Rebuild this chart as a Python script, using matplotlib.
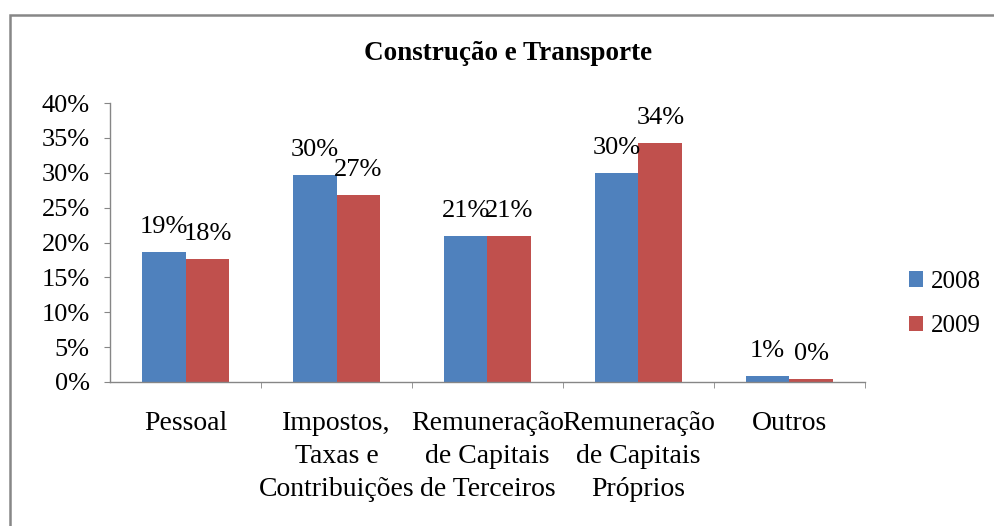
import numpy as np
import matplotlib
matplotlib.use("Agg")
import matplotlib.pyplot as plt
from matplotlib.patches import Rectangle

categories = ["Pessoal", "Impostos,\nTaxas e\nContribuições",
              "Remuneração\nde Capitais\nde Terceiros",
              "Remuneração\nde Capitais\nPróprios", "Outros"]
years = ["2008", "2009"]
vals_2008 = [18.6, 29.7, 20.9, 29.9, 0.86]
vals_2009 = [17.7, 26.8, 20.9, 34.2, 0.45]
yticks = [0, 5, 10, 15, 20, 25, 30, 35, 40]
colors = ["#4F81BD", "#C0504D"]

plt.rcParams["font.family"] = ["Liberation Serif", "DejaVu Serif"]
AXIS_GRAY = "#868686"

fig = plt.figure(figsize=(9.95, 5.26), dpi=100)
ax = fig.add_axes([110 / 995, 1 - 382 / 526, 755 / 995, 279 / 526])

x = np.arange(len(categories))
w = 0.29
for vals, off, col, lab in [(vals_2008, -w / 2, colors[0], years[0]),
                            (vals_2009, w / 2, colors[1], years[1])]:
    bars = ax.bar(x + off, vals, width=w, color=col, label=lab, zorder=2)
    for b, v in zip(bars, vals):
        ax.annotate(f"{round(v):.0f}%", (b.get_x() + b.get_width() / 2, v),
                    xytext=(0, 19), textcoords="offset pixels",
                    ha="center", va="baseline", fontsize=19)

ax.set_xlim(-0.5, len(categories) - 0.5)
ax.set_ylim(0, 40)
ax.set_yticks(yticks)
ax.set_yticklabels([f"{t}%" for t in yticks], fontsize=19)
ax.tick_params(axis="y", direction="out", length=4.5, color=AXIS_GRAY, pad=10)

# category labels centered, ticks on group boundaries
ax.set_xticks(x)
ax.set_xticklabels(categories, fontsize=20, linespacing=1.42, va="top")
ax.tick_params(axis="x", which="major", length=0, pad=21)
ax.set_xticks(np.arange(0.5, len(categories) - 0.4, 1), minor=True)
ax.tick_params(axis="x", which="minor", direction="out", length=4.5, color=AXIS_GRAY)

for s in ["top", "right"]:
    ax.spines[s].set_visible(False)
for s in ["left", "bottom"]:
    ax.spines[s].set_color(AXIS_GRAY)
    ax.spines[s].set_linewidth(1)

ax.legend(loc="center left", bbox_to_anchor=(909 / 995, 1 - 304 / 526),
          bbox_transform=fig.transFigure, frameon=False, fontsize=18,
          handlelength=0.56, handleheight=0.56, handletextpad=0.3,
          labelspacing=0.9, borderpad=0, borderaxespad=0)

fig.text(508 / 995, 1 - 53 / 526, "Construção e Transporte", ha="center",
         va="center", fontsize=19.5, fontweight="bold")

# outer chart border (only left and top visible in the crop)
fig.patches.append(Rectangle((10 / 995, -0.1), 1.2, 1.1 - 15 / 526,
                             transform=fig.transFigure, fill=False,
                             edgecolor="#878787", linewidth=1.8))

fig.savefig("out.png", dpi=100)
